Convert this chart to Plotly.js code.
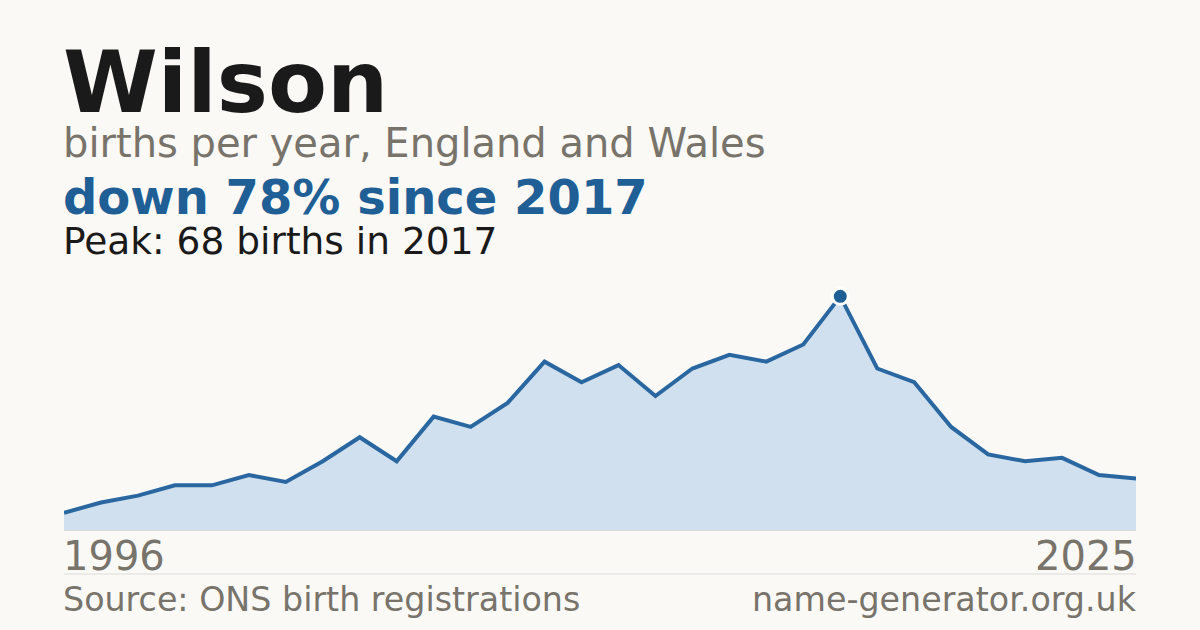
<!DOCTYPE html>
<html>
<head>
<meta charset="utf-8">
<script src="https://cdn.plot.ly/plotly-3.0.1.min.js"></script>
<style>
  html, body { margin: 0; padding: 0; background: #faf9f5; }
  #chart { width: 1200px; height: 630px; }
</style>
</head>
<body>
<div id="chart"></div>
<script>
// Wilson - births per year, England and Wales
var years = [1996, 1997, 1998, 1999, 2000, 2001, 2002, 2003, 2004, 2005,
             2006, 2007, 2008, 2009, 2010, 2011, 2012, 2013, 2014, 2015,
             2016, 2017, 2018, 2019, 2020, 2021, 2022, 2023, 2024, 2025];
var births = [5, 8, 10, 13, 13, 16, 14, 20, 27, 20,
              33, 30, 37, 49, 43, 48, 39, 47, 51, 49,
              54, 68, 47, 43, 30, 22, 20, 21, 16, 15];

var peakYear = 2017;
var peakValue = 68;

var blue = '#1f5f96';
var grey = '#78736b';
var font = 'DejaVu Sans, sans-serif';

var area = {
	x: years,
	y: births,
	type: 'scatter',
	mode: 'lines',
	fill: 'tozeroy',
	fillcolor: '#d0e0ef',
	line: { color: '#2a67a0', width: 4, shape: 'linear' },
	hoverinfo: 'none'
};

var peak = {
	x: [peakYear],
	y: [peakValue],
	type: 'scatter',
	mode: 'markers',
	marker: { color: blue, size: 16, line: { color: '#ffffff', width: 3 } },
	hoverinfo: 'none'
};

// left / right aligned text, nudged so the glyphs sit on the plot edges
function label(text, x, y, size, color, side, xref) {
	return {
		text: text, xref: xref || 'paper', yref: 'paper', x: x, y: y,
		xanchor: side, yanchor: 'middle', showarrow: false,
		xshift: side == 'left' ? -3 : 3,
		font: { family: font, size: size, color: color }
	};
}

var layout = {
	width: 1200,
	height: 630,
	margin: { l: 64, r: 64, t: 280, b: 100 },
	paper_bgcolor: '#faf9f5',
	plot_bgcolor: '#faf9f5',
	showlegend: false,
	xaxis: {
		range: [years[0], years[years.length - 1]],
		showgrid: false, zeroline: false, showticklabels: false, ticks: '',
		showline: true, linecolor: '#dcdcdc', linewidth: 1, fixedrange: true
	},
	yaxis: {
		range: [0, peakValue * 1.07],
		showgrid: false, zeroline: false, showticklabels: false, ticks: '',
		showline: false, fixedrange: true
	},
	shapes: [
		{ type: 'line', xref: 'paper', yref: 'paper', x0: 0, x1: 1, y0: -0.176, y1: -0.176,
		  line: { color: '#dcdcdc', width: 1 } }
	],
	annotations: [
		label('<b>Wilson</b>', 0, 1.792, 86, '#1a1a1a', 'left'),
		label('births per year, England and Wales', 0, 1.548, 40, grey, 'left'),
		label('<b>down 78% since ' + peakYear + '</b>', 0, 1.332, 48, blue, 'left'),
		label('Peak: ' + peakValue + ' births in ' + peakYear, 0, 1.158, 37.5, '#1a1a1a', 'left'),
		label(String(years[0]), years[0], -0.104, 40, grey, 'left', 'x'),
		label(String(years[years.length - 1]), years[years.length - 1], -0.104, 40, grey, 'right', 'x'),
		label('Source: ONS birth registrations', 0, -0.278, 33.3, grey, 'left'),
		label('name-generator.org.uk', 1, -0.278, 33.3, grey, 'right')
	]
};

Plotly.newPlot('chart', [area, peak], layout, { staticPlot: true, displayModeBar: false });
</script>
</body>
</html>
